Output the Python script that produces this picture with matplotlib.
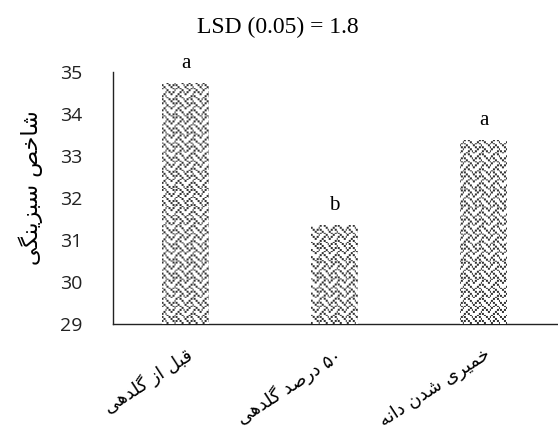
import re
import numpy as np
import matplotlib
matplotlib.use("Agg")
import matplotlib.pyplot as plt

# data
categories = ["قبل از گلدهی", "۵۰ درصد گلدهی", "خمیری شدن دانه"]
values = [34.74, 31.36, 33.38]
letters = ["a", "b", "a"]
y_ticks = [29, 30, 31, 32, 33, 34, 35]
y_label = "شاخص سبزینگی"
title = "LSD (0.05) = 1.8"

# presentation forms: isolated, final, initial, medial
FORMS = {
    "ا": ("\uFE8D", "\uFE8E", None, None),
    "ب": ("\uFE8F", "\uFE90", "\uFE91", "\uFE92"),
    "خ": ("\uFEA5", "\uFEA6", "\uFEA7", "\uFEA8"),
    "د": ("\uFEA9", "\uFEAA", None, None),
    "ر": ("\uFEAD", "\uFEAE", None, None),
    "ز": ("\uFEAF", "\uFEB0", None, None),
    "س": ("\uFEB1", "\uFEB2", "\uFEB3", "\uFEB4"),
    "ش": ("\uFEB5", "\uFEB6", "\uFEB7", "\uFEB8"),
    "ص": ("\uFEB9", "\uFEBA", "\uFEBB", "\uFEBC"),
    "ق": ("\uFED5", "\uFED6", "\uFED7", "\uFED8"),
    "ل": ("\uFEDD", "\uFEDE", "\uFEDF", "\uFEE0"),
    "م": ("\uFEE1", "\uFEE2", "\uFEE3", "\uFEE4"),
    "ن": ("\uFEE5", "\uFEE6", "\uFEE7", "\uFEE8"),
    "ه": ("\uFEE9", "\uFEEA", "\uFEEB", "\uFEEC"),
    "گ": ("\uFB92", "\uFB93", "\uFB94", "\uFB95"),
    "ی": ("\uFBFC", "\uFBFD", "\uFBFE", "\uFBFF"),
}


def fa(text):
    out = []
    for i, ch in enumerate(text):
        if ch not in FORMS:
            out.append(ch)
            continue
        prev = text[i - 1] if i > 0 else ""
        nxt = text[i + 1] if i + 1 < len(text) else ""
        join_prev = prev in FORMS and FORMS[prev][2] is not None
        join_next = FORMS[ch][2] is not None and nxt in FORMS
        iso, fin, ini, med = FORMS[ch]
        if join_prev and join_next:
            out.append(med)
        elif join_prev:
            out.append(fin)
        elif join_next:
            out.append(ini)
        else:
            out.append(iso)
    vis = "".join(out)[::-1]
    return re.sub(r"[۰-۹0-9]+", lambda m: m.group()[::-1], vis)


fig = plt.figure(figsize=(5.58, 4.32), dpi=100)
pos = [0.202, 0.25, 0.798, 0.5833]
ax = fig.add_axes(pos)

x = np.arange(len(categories))
bars = ax.bar(x, values, width=0.315, bottom=0, color="white", edgecolor="none")

xlim = (-0.49, 2.5)
ax.set_xlim(*xlim)
ax.set_ylim(29, 35)

# weave texture at screen resolution, clipped to each bar
weave = [0x88, 0x54, 0x22, 0x45, 0x88, 0x14, 0x22, 0x51]
tile = np.unpackbits(np.array(weave, dtype=np.uint8)).reshape(8, 8)
W = int(pos[2] * 558)
H = int(pos[3] * 432)
cell = 1.8
py, px = np.mgrid[0:H, 0:W]
tex = tile[(py / cell).astype(int) % 8, (px / cell).astype(int) % 8]
for b in bars:
    im = ax.imshow(1 - tex, cmap="gray", vmin=-0.25, vmax=1, aspect="auto",
                   extent=(xlim[0], xlim[1], 29, 35), interpolation="bilinear", zorder=3)
    im.set_clip_path(b)
ax.set_xlim(*xlim)
ax.set_ylim(29, 35)

for xi, v, l in zip(x, values, letters):
    ax.annotate(l, (xi, v), xytext=(0, 11), textcoords="offset points",
                ha="center", va="baseline", fontsize=15, family="Liberation Serif")

ax.set_yticks(y_ticks)
ax.set_yticklabels([str(t) for t in y_ticks], fontsize=14, family="Open Sans", color="#222222")
ax.tick_params(axis="y", length=0, pad=22)
ax.set_xticks(x)
ax.set_xticklabels([fa(c) for c in categories], rotation=33, ha="right",
                   rotation_mode="anchor", fontsize=13, family="DejaVu Sans")
ax.tick_params(axis="x", length=0, pad=15)

for s in ["top", "right"]:
    ax.spines[s].set_visible(False)
for s in ["left", "bottom"]:
    ax.spines[s].set_linewidth(1.0)
    ax.spines[s].set_color("#222222")

fig.text(0.055, 0.565, fa(y_label), rotation=90, ha="center", va="center",
         fontsize=16, family="DejaVu Sans")
fig.text(0.498, 0.937, title, ha="center", va="center", fontsize=17,
         family="Liberation Serif")

fig.savefig("out.png", dpi=100)
